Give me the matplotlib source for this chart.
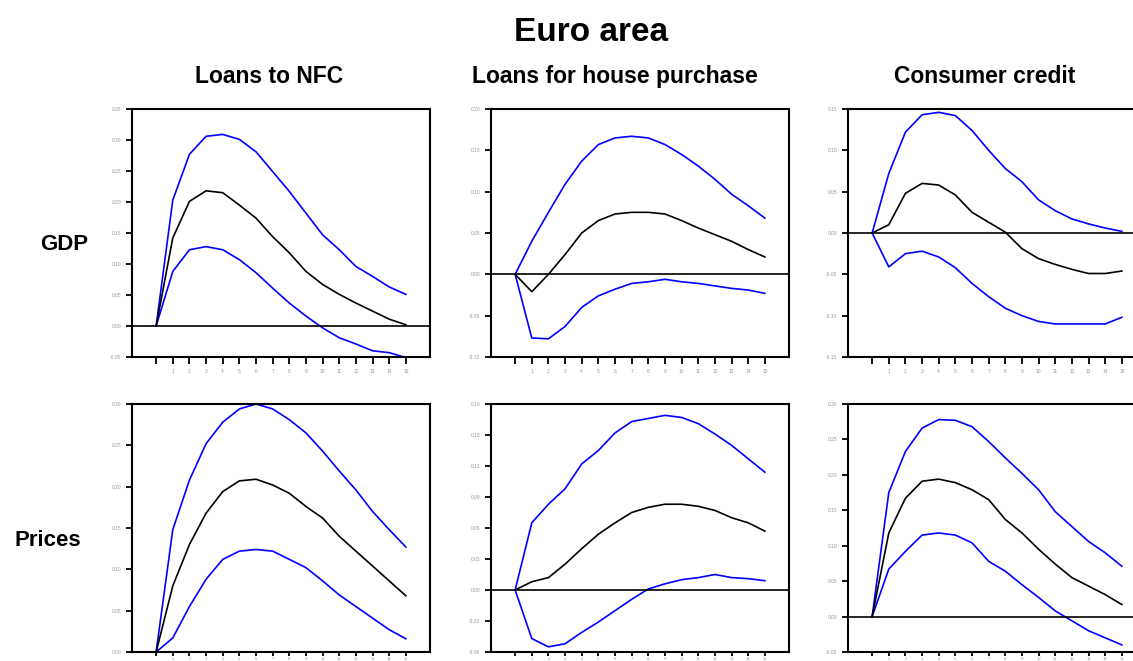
import numpy as np
import matplotlib
matplotlib.use("Agg")
import matplotlib.pyplot as plt

plt.rcParams['font.family'] = ['Liberation Sans', 'DejaVu Sans']

### horizon 0..15
horizon = list(range(16))
col_titles = ['Loans to NFC', 'Loans for house purchase', 'Consumer credit']
row_titles = ['GDP', 'Prices']

### GDP responses (upper band, point estimate, lower band)
gdp_nfc_up = [0.0, 0.203, 0.277, 0.306, 0.309, 0.301, 0.281, 0.249, 0.217, 0.182, 0.147, 0.123, 0.096, 0.080, 0.063, 0.051]
gdp_nfc_mid = [0.0, 0.142, 0.201, 0.218, 0.215, 0.195, 0.174, 0.144, 0.118, 0.088, 0.067, 0.051, 0.037, 0.024, 0.011, 0.002]
gdp_nfc_lo = [0.0, 0.088, 0.123, 0.128, 0.123, 0.107, 0.086, 0.061, 0.037, 0.016, -0.003, -0.019, -0.029, -0.040, -0.043, -0.051]

gdp_house_up = [0.0, 0.040, 0.075, 0.109, 0.137, 0.157, 0.165, 0.167, 0.165, 0.157, 0.145, 0.131, 0.115, 0.097, 0.083, 0.068]
gdp_house_mid = [0.0, -0.021, 0.0, 0.024, 0.050, 0.065, 0.073, 0.075, 0.075, 0.073, 0.065, 0.056, 0.048, 0.040, 0.030, 0.021]
gdp_house_lo = [0.0, -0.077, -0.078, -0.063, -0.040, -0.026, -0.018, -0.011, -0.009, -0.006, -0.009, -0.011, -0.014, -0.017, -0.019, -0.023]

gdp_cons_up = [0.0, 0.072, 0.122, 0.143, 0.146, 0.142, 0.124, 0.100, 0.078, 0.062, 0.040, 0.027, 0.017, 0.011, 0.006, 0.002]
gdp_cons_mid = [0.0, 0.010, 0.048, 0.060, 0.058, 0.046, 0.025, 0.013, 0.001, -0.019, -0.031, -0.038, -0.044, -0.049, -0.049, -0.046]
gdp_cons_lo = [0.0, -0.041, -0.025, -0.022, -0.029, -0.042, -0.061, -0.077, -0.091, -0.100, -0.107, -0.110, -0.110, -0.110, -0.110, -0.102]

### Price responses
pr_nfc_up = [0.0, 0.148, 0.208, 0.252, 0.278, 0.294, 0.300, 0.294, 0.281, 0.265, 0.243, 0.219, 0.196, 0.170, 0.148, 0.127]
pr_nfc_mid = [0.0, 0.080, 0.130, 0.168, 0.194, 0.207, 0.209, 0.202, 0.192, 0.176, 0.162, 0.140, 0.122, 0.104, 0.086, 0.068]
pr_nfc_lo = [0.0, 0.017, 0.055, 0.088, 0.112, 0.122, 0.124, 0.122, 0.112, 0.102, 0.086, 0.069, 0.055, 0.041, 0.027, 0.016]

pr_house_up = [0.0, 0.065, 0.083, 0.098, 0.122, 0.135, 0.152, 0.163, 0.166, 0.169, 0.167, 0.161, 0.151, 0.140, 0.127, 0.114]
pr_house_mid = [0.0, 0.008, 0.012, 0.025, 0.040, 0.054, 0.065, 0.075, 0.080, 0.083, 0.083, 0.081, 0.077, 0.070, 0.065, 0.057]
pr_house_lo = [0.0, -0.047, -0.055, -0.052, -0.041, -0.031, -0.020, -0.009, 0.001, 0.006, 0.010, 0.012, 0.015, 0.012, 0.011, 0.009]

pr_cons_up = [0.0, 0.175, 0.233, 0.266, 0.278, 0.277, 0.268, 0.247, 0.224, 0.202, 0.179, 0.148, 0.127, 0.106, 0.090, 0.071]
pr_cons_mid = [0.0, 0.118, 0.167, 0.191, 0.194, 0.189, 0.179, 0.165, 0.137, 0.118, 0.095, 0.074, 0.055, 0.043, 0.031, 0.017]
pr_cons_lo = [0.0, 0.067, 0.092, 0.115, 0.118, 0.115, 0.104, 0.078, 0.064, 0.045, 0.027, 0.008, -0.006, -0.020, -0.030, -0.040]

### y axis ticks per panel
yticks_gdp = [np.arange(-0.05, 0.351, 0.05), np.arange(-0.10, 0.201, 0.05), np.arange(-0.15, 0.151, 0.05)]
yticks_pr = [np.arange(0.0, 0.301, 0.05), np.arange(-0.06, 0.181, 0.03), np.arange(-0.05, 0.301, 0.05)]

panels = [
    [(gdp_nfc_up, gdp_nfc_mid, gdp_nfc_lo), (gdp_house_up, gdp_house_mid, gdp_house_lo), (gdp_cons_up, gdp_cons_mid, gdp_cons_lo)],
    [(pr_nfc_up, pr_nfc_mid, pr_nfc_lo), (pr_house_up, pr_house_mid, pr_house_lo), (pr_cons_up, pr_cons_mid, pr_cons_lo)],
]
yticks_all = [yticks_gdp, yticks_pr]

W, H = 1133, 661
fig = plt.figure(figsize=(W / 100, H / 100), dpi=100)

lefts = [132, 491, 848]
tops = [109, 404]
bottoms = [357, 652]
pw = 298

for r in range(2):
    for c in range(3):
        ax = fig.add_axes([lefts[c] / W, 1 - bottoms[r] / H, pw / W, (bottoms[r] - tops[r]) / H])
        up, mid, lo = panels[r][c]
        ax.plot(horizon, up, color='#0000ff', lw=1.2)
        ax.plot(horizon, lo, color='#0000ff', lw=1.2)
        ax.plot(horizon, mid, color='black', lw=1.2)
        ax.axhline(0, color='black', lw=1.2)
        yt = yticks_all[r][c]
        ax.set_ylim(yt[0], yt[-1])
        ax.set_yticks(yt)
        ax.set_yticklabels(['%.2f' % v for v in yt])
        ax.set_xlim(-1.45, 16.45)
        ax.set_xticks(horizon)
        ax.set_xticklabels([str(h) if h > 0 else '' for h in horizon])
        ax.tick_params(axis='both', labelsize=3.5, labelcolor='#999999', width=1.3,
                       length=4, direction='out', pad=4)
        if r == 0:
            ax.tick_params(axis='x', length=5)
        else:
            ax.tick_params(axis='x', length=3, pad=0.5, labelsize=3)
        for s in ax.spines.values():
            s.set_linewidth(1.5)

fig.text(591 / W, 1 - 41 / H, 'Euro area', ha='center', va='baseline', fontsize=24, fontweight='bold')
col_x = [269, 615, 985]
for x, t in zip(col_x, col_titles):
    fig.text(x / W, 1 - 83 / H, t, ha='center', va='baseline', fontsize=16.5, fontweight='bold')
fig.text(64 / W, 1 - 250 / H, row_titles[0], ha='center', va='baseline', fontsize=16, fontweight='bold')
fig.text(48 / W, 1 - 546 / H, row_titles[1], ha='center', va='baseline', fontsize=16, fontweight='bold')

fig.savefig('out.png', dpi=100)
